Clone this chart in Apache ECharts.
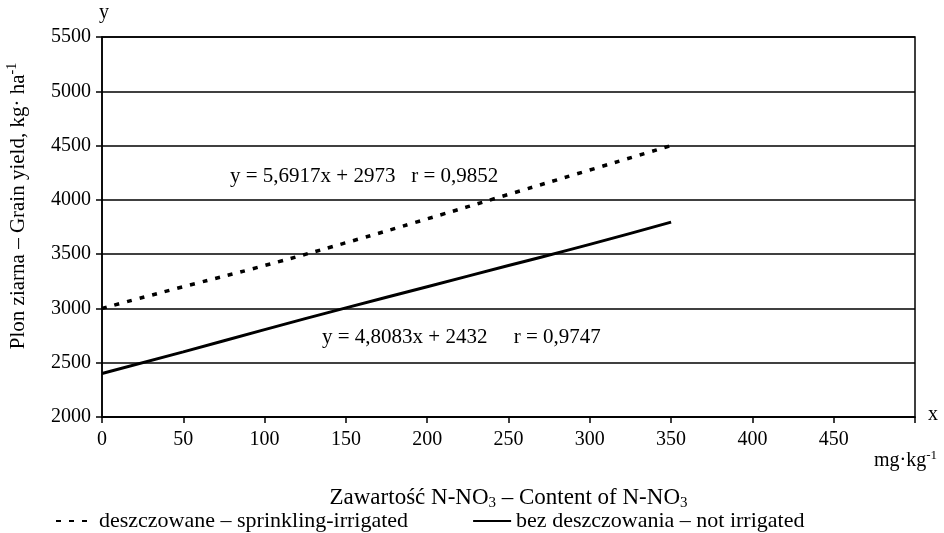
<!DOCTYPE html>
<html>
<head>
<meta charset="utf-8">
<script src="https://cdn.jsdelivr.net/npm/echarts@6/dist/echarts.min.js"></script>
<style>
  html, body { margin: 0; padding: 0; background: #fff; }
  #chart { width: 944px; height: 533px; }
</style>
</head>
<body>
<div id="chart"></div>
<script>
// N-NO3 content, mg·kg-1
const xValues = [0, 50, 100, 150, 200, 250, 300, 350];
// deszczowane - sprinkling-irrigated
const irrigated = [3000, 3200, 3395, 3605, 3825, 4050, 4275, 4500];
// bez deszczowania - not irrigated
const notIrrigated = [2400, 2600, 2805, 3005, 3200, 3395, 3590, 3795];

const nameIrr = "deszczowane – sprinkling-irrigated";
const nameNot = "bez deszczowania – not irrigated";
const eqIrr = "y = 5,6917x + 2973   r = 0,9852";
const eqNot = "y = 4,8083x + 2432     r = 0,9747";

const font = "'Liberation Serif', 'DejaVu Serif', serif";

function pairs(ys) {
  return xValues.map((x, i) => [x, ys[i]]);
}

const chart = echarts.init(document.getElementById("chart"));
chart.setOption({
  animation: false,
  backgroundColor: "#fff",
  textStyle: { fontFamily: font, color: "#000" },
  grid: {
    left: 102, right: 29, top: 37, bottom: 116,
    outerBoundsMode: "none",
    containLabel: false,
    show: true, borderColor: "#000", borderWidth: 1.5,
  },
  legend: {
    left: 50, top: 505,
    itemWidth: 38, itemHeight: 10, itemGap: 64,
    itemStyle: { opacity: 0 },
    textStyle: { fontFamily: font, fontSize: 22, color: "#000" },
    data: [nameIrr, nameNot],
  },
  xAxis: {
    type: "value",
    min: 0, max: 500, interval: 50,
    name: "Zawartość N-NO{sub|3} – Content of N-NO{sub|3}",
    nameLocation: "middle",
    nameGap: 67,
    nameTextStyle: {
      fontFamily: font, fontSize: 23, color: "#000",
      rich: { sub: { fontFamily: font, fontSize: 15, padding: [12, 0, 0, 0] } },
    },
    axisLine: { lineStyle: { color: "#000", width: 1.5 } },
    axisTick: { show: true, inside: false, length: 6, lineStyle: { color: "#000", width: 1.5 } },
    axisLabel: {
      fontFamily: font, fontSize: 20, color: "#000", margin: 13,
      formatter: v => (v === 500 ? "" : String(v)),
    },
    splitLine: { show: false },
  },
  yAxis: {
    type: "value",
    min: 2000, max: 5500, interval: 500,
    axisLine: { show: true, lineStyle: { color: "#000", width: 1.5 } },
    axisTick: { show: true, inside: false, length: 6, lineStyle: { color: "#000", width: 1.5 } },
    axisLabel: { fontFamily: font, fontSize: 20, color: "#000", margin: 11, formatter: v => String(v) },
    splitLine: { show: true, lineStyle: { color: "#000", width: 1.5 } },
  },
  graphic: [
    { type: "text", left: 99, top: 3, style: { text: "y", font: "20px " + font, fill: "#000" } },
    { type: "text", left: 928, top: 405, style: { text: "x", font: "20px " + font, fill: "#000" } },
    {
      type: "text", left: 874, top: 449,
      style: {
        text: "mg·kg{sup|-1}", font: "20px " + font, fill: "#000",
        rich: { sup: { fontFamily: font, fontSize: 13, padding: [0, 0, 10, 0] } },
      },
    },
    {
      type: "text", x: 18, y: 206, rotation: Math.PI / 2,
      style: {
        text: "Plon ziarna – Grain yield, kg· ha{sup|-1}", font: "21px " + font, fill: "#000",
        align: "center", verticalAlign: "middle",
        rich: { sup: { fontFamily: font, fontSize: 14, padding: [0, 0, 12, 0] } },
      },
    },
    { type: "text", left: 230, top: 166, style: { text: eqIrr, font: "21px " + font, fill: "#000" } },
    { type: "text", left: 322, top: 327, style: { text: eqNot, font: "21px " + font, fill: "#000" } },
  ],
  series: [
    {
      name: nameIrr,
      type: "line",
      smooth: true,
      symbol: "none",
      data: pairs(irrigated),
      lineStyle: { color: "#000", width: 3.5, type: [5, 8] },
      itemStyle: { color: "#000" },
    },
    {
      name: nameNot,
      type: "line",
      smooth: true,
      symbol: "none",
      data: pairs(notIrrigated),
      lineStyle: { color: "#000", width: 3, type: "solid" },
      itemStyle: { color: "#000" },
    },
  ],
});
</script>
</body>
</html>
